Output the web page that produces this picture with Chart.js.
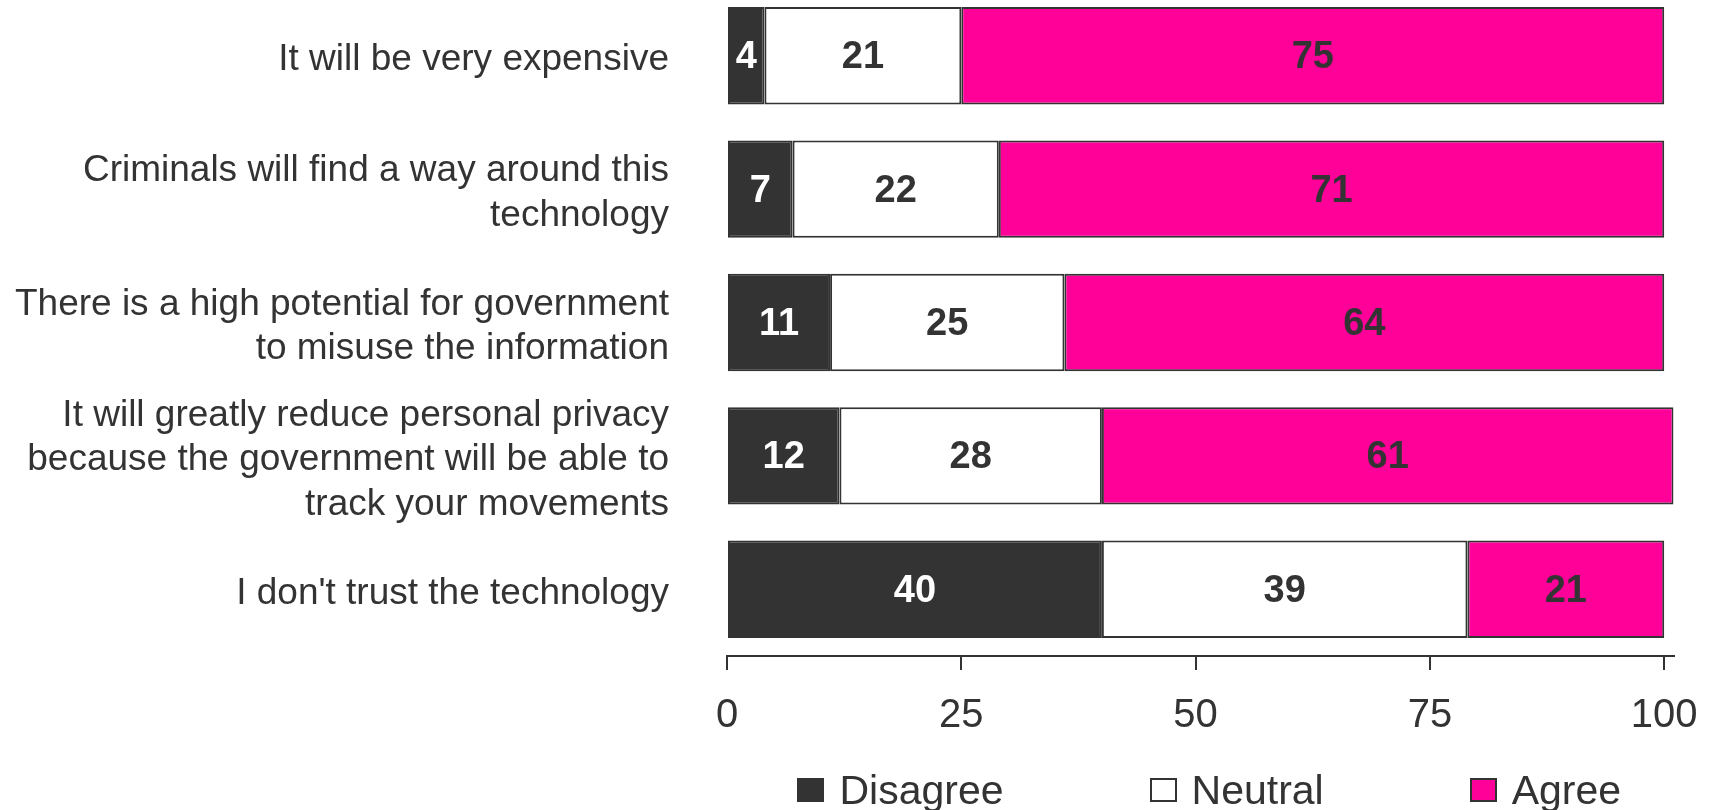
<!DOCTYPE html>
<html>
<head>
<meta charset="utf-8">
<script src="https://cdn.jsdelivr.net/npm/chart.js@4"></script>
<style>
  body { margin: 0; background: #fff; }
  #wrap { position: relative; width: 1720px; height: 810px; overflow: hidden; }
  #chart { position: absolute; left: 0; top: -11px; }
  #legend { position: absolute; top: 766px; height: 48px; display: flex; justify-content: center; align-items: center;
    font: 41px 'Liberation Sans', Arial, sans-serif; color: #333; padding-left: 18px; box-sizing: border-box; }
  .item { display: flex; align-items: center; margin: 0 73px; white-space: nowrap; }
  .box { width: 23px; height: 20px; border: 2px solid #333; margin-right: 15px; }
</style>
</head>
<body>
<div id="wrap">
  <canvas id="chart" width="1720" height="821"></canvas>
  <div id="legend"></div>
</div>
<script>
// Data
const categories = [
  'It will be very expensive',
  ['Criminals will find a way around this', 'technology'],
  ['There is a high potential for government', 'to misuse the information'],
  ['It will greatly reduce personal privacy', 'because the government will be able to', 'track your movements'],
  "I don't trust the technology"
];
const seriesNames = ['Disagree', 'Neutral', 'Agree'];
const disagree = [4, 7, 11, 12, 40];
const neutral = [21, 22, 25, 28, 39];
const agree = [75, 71, 64, 61, 21];
const xTicks = [0, 25, 50, 75, 100];

const FONT = "'Liberation Sans', Arial, sans-serif";
const colors = ['#333333', '#ffffff', '#ff0099'];
const labelColors = ['#ffffff', '#333333', '#333333'];

// Draw the numbers in the middle of each segment
const valueLabels = {
  id: 'valueLabels',
  afterDatasetsDraw(chart) {
    const ctx = chart.ctx;
    ctx.save();
    ctx.font = `bold 38px ${FONT}`;
    ctx.textAlign = 'center';
    ctx.textBaseline = 'middle';
    chart.data.datasets.forEach((ds, i) => {
      chart.getDatasetMeta(i).data.forEach((bar, j) => {
        ctx.fillStyle = labelColors[i];
        ctx.fillText(ds.data[j], (bar.x + bar.base) / 2, bar.y + 2);
      });
    });
    ctx.restore();
  }
};

const seriesData = [disagree, neutral, agree];

const chart = new Chart(document.getElementById('chart'), {
  type: 'bar',
  data: {
    labels: categories,
    datasets: seriesNames.map((name, i) => ({
      label: name,
      data: seriesData[i],
      backgroundColor: colors[i],
      borderColor: '#333333',
      borderWidth: 2,
      borderSkipped: false,
      categoryPercentage: 1,
      barPercentage: 0.73,
    })),
  },
  options: {
    indexAxis: 'y',
    responsive: false,
    animation: false,
    layout: { padding: { left: 0, right: 41, top: 0, bottom: 48 } },
    plugins: {
      legend: { display: false },
      tooltip: { enabled: false },
    },
    scales: {
      x: {
        stacked: true,
        min: 0,
        max: 101,
        afterBuildTicks: (scale) => { scale.ticks = xTicks.map(v => ({ value: v })); },
        grid: { drawOnChartArea: false, drawTicks: true, tickLength: 14, color: '#333333', lineWidth: 2 },
        border: { display: true, color: '#333333', width: 2 },
        ticks: { color: '#333333', padding: 22, font: { family: FONT, size: 40 }, maxRotation: 0 },
      },
      y: {
        stacked: true,
        grid: { display: false, drawTicks: false },
        border: { display: false },
        afterFit: (scale) => {
          scale.width = 727;
          // let the plot run to the top edge like the original
          scale.paddingTop = 0;
          scale.paddingBottom = 0;
        },
        ticks: { color: '#333333', padding: 58, labelOffset: 4, autoSkip: false, font: { family: FONT, size: 37, lineHeight: 1.2 } },
      },
    },
  },
  plugins: [valueLabels],
});

// HTML legend centred under the plot area
const legend = document.getElementById('legend');
const area = chart.chartArea;
legend.style.left = area.left + 'px';
legend.style.width = (area.right - area.left) + 'px';
seriesNames.forEach((name, i) => {
  const item = document.createElement('div');
  item.className = 'item';
  item.innerHTML = `<span class="box" style="background:${colors[i]}"></span><span>${name}</span>`;
  legend.appendChild(item);
});
</script>
</body>
</html>
